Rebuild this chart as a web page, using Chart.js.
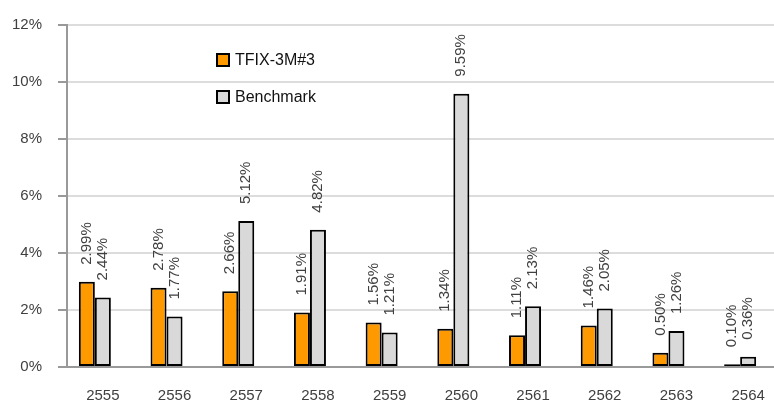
<!DOCTYPE html>
<html>
<head>
<meta charset="utf-8">
<script src="https://cdn.jsdelivr.net/npm/chart.js@4.4.0/dist/chart.umd.min.js"></script>
<style>
  html, body { margin: 0; padding: 0; overflow: hidden; background: #fff; }
  #wrap { width: 790px; height: 420px; }
</style>
</head>
<body>
<div id="wrap"><canvas id="chart" width="790" height="420"></canvas></div>
<script>
// Data
const categories = ['2555', '2556', '2557', '2558', '2559', '2560', '2561', '2562', '2563', '2564']
const tfixValues = [2.99, 2.78, 2.66, 1.91, 1.56, 1.34, 1.11, 1.46, 0.50, 0.10]
const benchmarkValues = [2.44, 1.77, 5.12, 4.82, 1.21, 9.59, 2.13, 2.05, 1.26, 0.36]
const yTicks = [0, 2, 4, 6, 8, 10, 12]

const FONT = '"Liberation Sans", Arial, sans-serif'
const TEXT = '#404040'

// Rotated value labels above each bar
const valueLabels = {
  id: 'valueLabels',
  afterDatasetsDraw(chart) {
    const ctx = chart.ctx
    ctx.save()
    ctx.font = `15px ${FONT}`
    ctx.fillStyle = TEXT
    ctx.textAlign = 'left'
    ctx.textBaseline = 'middle'
    ;[0, 1].forEach(i => {
      const values = chart.data.datasets[i].data
      chart.getDatasetMeta(i).data.forEach((bar, j) => {
        ctx.save()
        ctx.translate(bar.x, bar.y - 17)
        ctx.rotate(-Math.PI / 2)
        ctx.fillText(values[j].toFixed(2) + '%', 0, 0)
        ctx.restore()
      })
    })
    ctx.restore()
  }
}

// Legend drawn inside the plot area
const insideLegend = {
  id: 'insideLegend',
  afterDraw(chart) {
    const ctx = chart.ctx
    const x = 217
    const rows = [60, 97]
    ctx.save()
    ctx.font = `16px ${FONT}`
    ctx.textBaseline = 'middle'
    ;[0, 1].forEach(i => {
      const ds = chart.data.datasets[i]
      const y = rows[i]
      ctx.fillStyle = ds.backgroundColor
      ctx.fillRect(x, y - 6, 12, 12)
      ctx.lineWidth = 2
      ctx.strokeStyle = '#000'
      ctx.strokeRect(x, y - 6, 12, 12)
      ctx.fillStyle = '#111'
      ctx.fillText(ds.label, x + 18, y + 1)
    })
    ctx.restore()
  }
}

new Chart(document.getElementById('chart'), {
  type: 'bar',
  data: {
    labels: categories,
    datasets: [
      {
        label: 'TFIX-3M#3',
        data: tfixValues,
        backgroundColor: '#FF9900',
        borderColor: '#000',
        borderWidth: 2,
        borderSkipped: false
      },
      {
        label: 'Benchmark',
        data: benchmarkValues,
        backgroundColor: '#D9D9D9',
        borderColor: '#000',
        borderWidth: 2,
        borderSkipped: false
      },
      {
        // empty slot, keeps the pair left of the category centre
        label: '',
        data: [],
        backgroundColor: 'rgba(0,0,0,0)'
      }
    ]
  },
  options: {
    responsive: false,
    animation: false,
    devicePixelRatio: 1,
    layout: { padding: { top: 23, right: 6, left: 0, bottom: 0 } },
    datasets: {
      bar: { categoryPercentage: 0.67, barPercentage: 1.0 }
    },
    plugins: {
      legend: { display: false },
      tooltip: { enabled: false }
    },
    scales: {
      x: {
        grid: { display: false },
        border: { color: '#999', width: 2 },
        ticks: {
          color: TEXT,
          font: { family: FONT, size: 15 },
          padding: 12,
          maxRotation: 0
        },
        afterFit(scale) { scale.height = 53 }
      },
      y: {
        min: yTicks[0],
        max: yTicks[yTicks.length - 1],
        afterBuildTicks(scale) { scale.ticks = yTicks.map(v => ({ value: v })) },
        grid: {
          color: '#DCDCDC',
          lineWidth: 2,
          tickColor: '#999',
          tickLength: 9
        },
        border: { color: '#999', width: 2 },
        ticks: {
          color: TEXT,
          font: { family: FONT, size: 15 },
          padding: 16,
          callback: v => v + '%'
        },
        afterFit(scale) { scale.width = 67 }
      }
    }
  },
  plugins: [valueLabels, insideLegend]
})
</script>
</body>
</html>
